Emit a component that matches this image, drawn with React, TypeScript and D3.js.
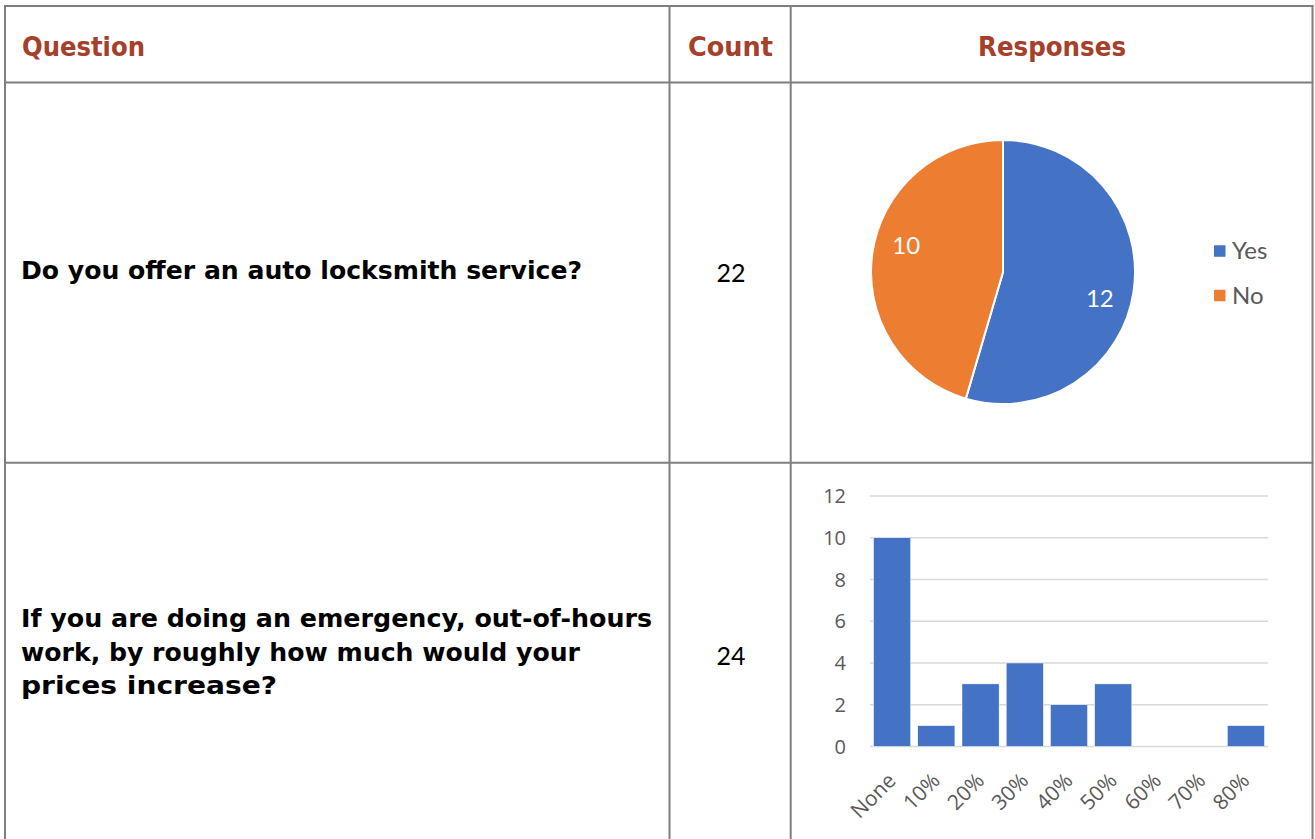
import React from "react";
import * as d3 from "d3";

const headers = ["Question", "Count", "Responses"];
const q1Lines = ["Do you offer an auto locksmith service?"];
const q2Lines = [
  "If you are doing an emergency, out-of-hours",
  "work, by roughly how much would your",
  "prices increase?",
];
const counts = [22, 24];

const pieLabels = ["Yes", "No"];
const pieValues = [12, 10];
const pieColors = ["#4472C4", "#ED7D31"];

const barCategories = ["None", "10%", "20%", "30%", "40%", "50%", "60%", "70%", "80%"];
const barValues = [10, 1, 3, 4, 2, 3, 0, 0, 1];
const yTicks = [0, 2, 4, 6, 8, 10, 12];

const BORDER = "#7f7f7f";
const HEAD = "#A5402A";
const GRAY = "#595959";
const GOTHIC = "'DejaVu Sans', 'Noto Sans', sans-serif";

export default function App() {
  // table geometry
  const xL = 5, xC1 = 669.5, xC2 = 790.7, xR = 1312.5;
  const yT = 6, yH = 82.5, yR1 = 462.7, yB = 839;

  // pie
  const cx = 1003, cy = 272, r = 132;
  const pie = d3.pie<number>().sort(null).value((d) => d)(pieValues);
  const arc = d3.arc<d3.PieArcDatum<number>>().innerRadius(0).outerRadius(r);
  const labelShift = (7 * Math.PI) / 180;
  const labelR = r * 0.76;

  // bars
  const x = d3.scaleBand().domain(barCategories).range([870, 1268]).paddingInner(0.16).paddingOuter(0.08);
  const y = d3.scaleLinear().domain([0, 12]).range([746.5, 496]);

  const q2Widths = [631, 559, 256];

  return (
    <svg width={1315} height={839} style={{ position: "absolute", left: 0, top: 0, background: "#fff" }}>
      {/* table lines */}
      <g stroke={BORDER} strokeWidth={2}>
        <line x1={xL} x2={xR + 1} y1={yT} y2={yT} />
        <line x1={xL} x2={xR + 1} y1={yH} y2={yH} />
        <line x1={xL} x2={xR + 1} y1={yR1} y2={yR1} />
        <line x1={xL} x2={xL} y1={yT - 1} y2={yB} />
        <line x1={xC1} x2={xC1} y1={yT - 1} y2={yB} />
        <line x1={xC2} x2={xC2} y1={yT - 1} y2={yB} />
        <line x1={xR} x2={xR} y1={yT - 1} y2={yB} />
      </g>
      {/* headers */}
      <g fill={HEAD} fontFamily={GOTHIC} fontWeight="bold" fontSize={27}>
        <text x={22} y={56} textLength={123} lengthAdjust="spacingAndGlyphs">{headers[0]}</text>
        <text x={688} y={56} textLength={85} lengthAdjust="spacingAndGlyphs">{headers[1]}</text>
        <text x={978} y={56} textLength={148} lengthAdjust="spacingAndGlyphs">{headers[2]}</text>
      </g>
      {/* questions */}
      <g fill="#000" fontFamily={GOTHIC} fontWeight="bold" fontSize={24}>
        {q1Lines.map((l, i) => (
          <text key={i} x={21} y={279 + i * 33.5} textLength={561} lengthAdjust="spacingAndGlyphs">{l}</text>
        ))}
        {q2Lines.map((l, i) => (
          <text key={i} x={21} y={627 + i * 33.5} textLength={q2Widths[i]} lengthAdjust="spacingAndGlyphs">{l}</text>
        ))}
      </g>
      <g fill="#000" fontFamily="Lato, 'Noto Sans', sans-serif" fontSize={25} textAnchor="middle">
        <text x={731} y={282}>{counts[0]}</text>
        <text x={731} y={665}>{counts[1]}</text>
      </g>
      {/* pie */}
      <g transform={`translate(${cx},${cy})`}>
        {pie.map((d, i) => (
          <path key={i} d={arc(d) || ""} fill={pieColors[i]} stroke="#fff" strokeWidth={2} />
        ))}
        {pie.map((d, i) => {
          const a = (d.startAngle + d.endAngle) / 2 + labelShift;
          const lx = Math.sin(a) * labelR;
          const ly = -Math.cos(a) * labelR;
          return (
            <text key={i} x={lx} y={ly} dy="0.35em" textAnchor="middle" fill="#fff"
              fontFamily="Lato, 'Noto Sans', sans-serif" fontSize={24}>{pieValues[i]}</text>
          );
        })}
      </g>
      {/* legend */}
      <g fontFamily="Lato, 'Noto Sans', sans-serif" fontSize={24} fill={GRAY}>
        {pieLabels.map((l, i) => (
          <g key={i} transform={`translate(1214,${251 + i * 44.5})`}>
            <rect x={0} y={-5.75} width={11.5} height={11.5} fill={pieColors[i]} />
            <text x={18} y={0} dy="0.35em">{l}</text>
          </g>
        ))}
      </g>
      {/* bar chart */}
      <g>
        {yTicks.map((t) => (
          <g key={t}>
            <line x1={870} x2={1268} y1={y(t)} y2={y(t)} stroke="#d9d9d9" strokeWidth={1.5} />
            <text x={846} y={y(t)} dy="0.35em" textAnchor="end" fill={GRAY}
              fontFamily="'Open Sans', 'Noto Sans', sans-serif" fontSize={20}>{t}</text>
          </g>
        ))}
        {barCategories.map((c, i) => (
          <rect key={c} x={x(c)} y={y(barValues[i])} width={x.bandwidth()}
            height={y(0) - y(barValues[i])} fill="#4472C4" stroke="#fff" strokeWidth={0.5} />
        ))}
        {barCategories.map((c) => {
          const bx = (x(c) || 0) + x.bandwidth() / 2 + 5;
          return (
            <text key={c} transform={`translate(${bx},${782}) rotate(-45)`} textAnchor="end"
              fill={GRAY} fontFamily="'Open Sans', 'Noto Sans', sans-serif" fontSize={21}>{c}</text>
          );
        })}
      </g>
    </svg>
  );
}
